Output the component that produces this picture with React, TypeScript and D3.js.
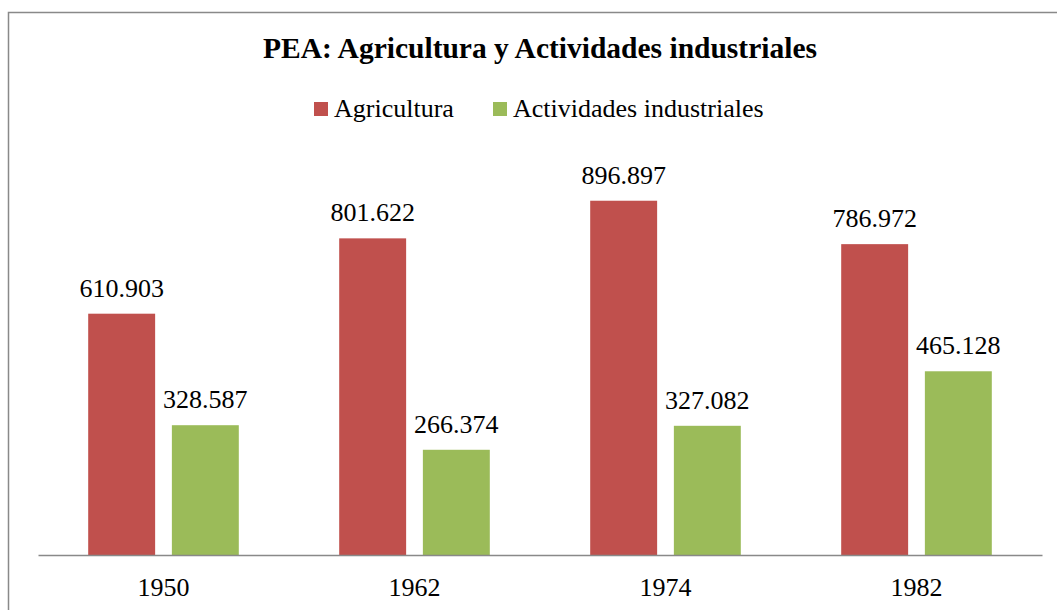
import React, { useEffect, useRef } from "react";
import * as d3 from "d3";

const years = ["1950", "1962", "1974", "1982"];
const seriesNames = ["Agricultura", "Actividades industriales"];
const agricultura = [610.903, 801.622, 896.897, 786.972];
const industria = [328.587, 266.374, 327.082, 465.128];
const colors = ["#C0504D", "#9BBB59"];

const fmt = (v: number) => v.toFixed(3);

export default function App() {
  const ref = useRef<SVGSVGElement>(null);

  useEffect(() => {
    const svg = d3.select(ref.current);
    svg.selectAll("*").remove();
    const font = "'Liberation Serif', serif";

    // chart border (runs off the right/bottom edge like the reference)
    svg
      .append("rect")
      .attr("x", 8.5)
      .attr("y", 12.5)
      .attr("width", 1100)
      .attr("height", 700)
      .attr("fill", "white")
      .attr("stroke", "#898989")
      .attr("stroke-width", 1.5);

    svg
      .append("text")
      .attr("x", 540)
      .attr("y", 58)
      .attr("text-anchor", "middle")
      .style("font-family", font)
      .style("font-weight", "bold")
      .style("font-size", "29.5px")
      .text("PEA: Agricultura y Actividades industriales");

    // legend
    const legendX = [314, 493];
    seriesNames.forEach((name, i) => {
      const g = svg.append("g").attr("transform", `translate(${legendX[i]},0)`);
      g.append("rect")
        .attr("x", 0)
        .attr("y", 102)
        .attr("width", 14)
        .attr("height", 14)
        .attr("fill", colors[i]);
      g.append("text")
        .attr("x", 20)
        .attr("y", 117)
        .style("font-family", font)
        .style("font-size", "26px")
        .text(name);
    });

    const x0 = d3
      .scaleBand()
      .domain(years)
      .range([38, 1042])
      .paddingInner(0.4)
      .paddingOuter(0.2);
    const x1 = d3
      .scaleBand()
      .domain(seriesNames)
      .range([0, x0.bandwidth()])
      .paddingInner(0.2);
    const y = d3.scaleLinear().domain([0, 1000]).range([555, 160]);

    const data = years.map((yr, i) => ({
      year: yr,
      values: [agricultura[i], industria[i]],
    }));

    const groups = svg
      .selectAll("g.grp")
      .data(data)
      .enter()
      .append("g")
      .attr("class", "grp")
      .attr("transform", (d) => `translate(${x0(d.year)},0)`);

    seriesNames.forEach((name, si) => {
      groups
        .append("rect")
        .attr("x", x1(name)!)
        .attr("y", (d) => y(d.values[si]))
        .attr("width", x1.bandwidth())
        .attr("height", (d) => y(0) - y(d.values[si]))
        .attr("fill", colors[si]);
      groups
        .append("text")
        .attr("x", x1(name)! + x1.bandwidth() / 2)
        .attr("y", (d) => y(d.values[si]) - 17)
        .attr("text-anchor", "middle")
        .style("font-family", font)
        .style("font-size", "26px")
        .text((d) => fmt(d.values[si]));
    });

    const axis = d3.axisBottom(x0).tickSize(0).tickPadding(0);
    const ax = svg.append("g").attr("transform", "translate(0,555)").call(axis);
    ax.select(".domain").attr("stroke", "#898989").attr("stroke-width", 1.5);
    ax.selectAll(".tick text")
      .attr("dy", 0)
      .attr("y", 41)
      .style("font-family", font)
      .style("font-size", "26px")
      .attr("fill", "black");
  }, []);

  return (
    <svg
      ref={ref}
      width={1057}
      height={610}
      style={{ position: "absolute", left: 0, top: 0 }}
    />
  );
}
